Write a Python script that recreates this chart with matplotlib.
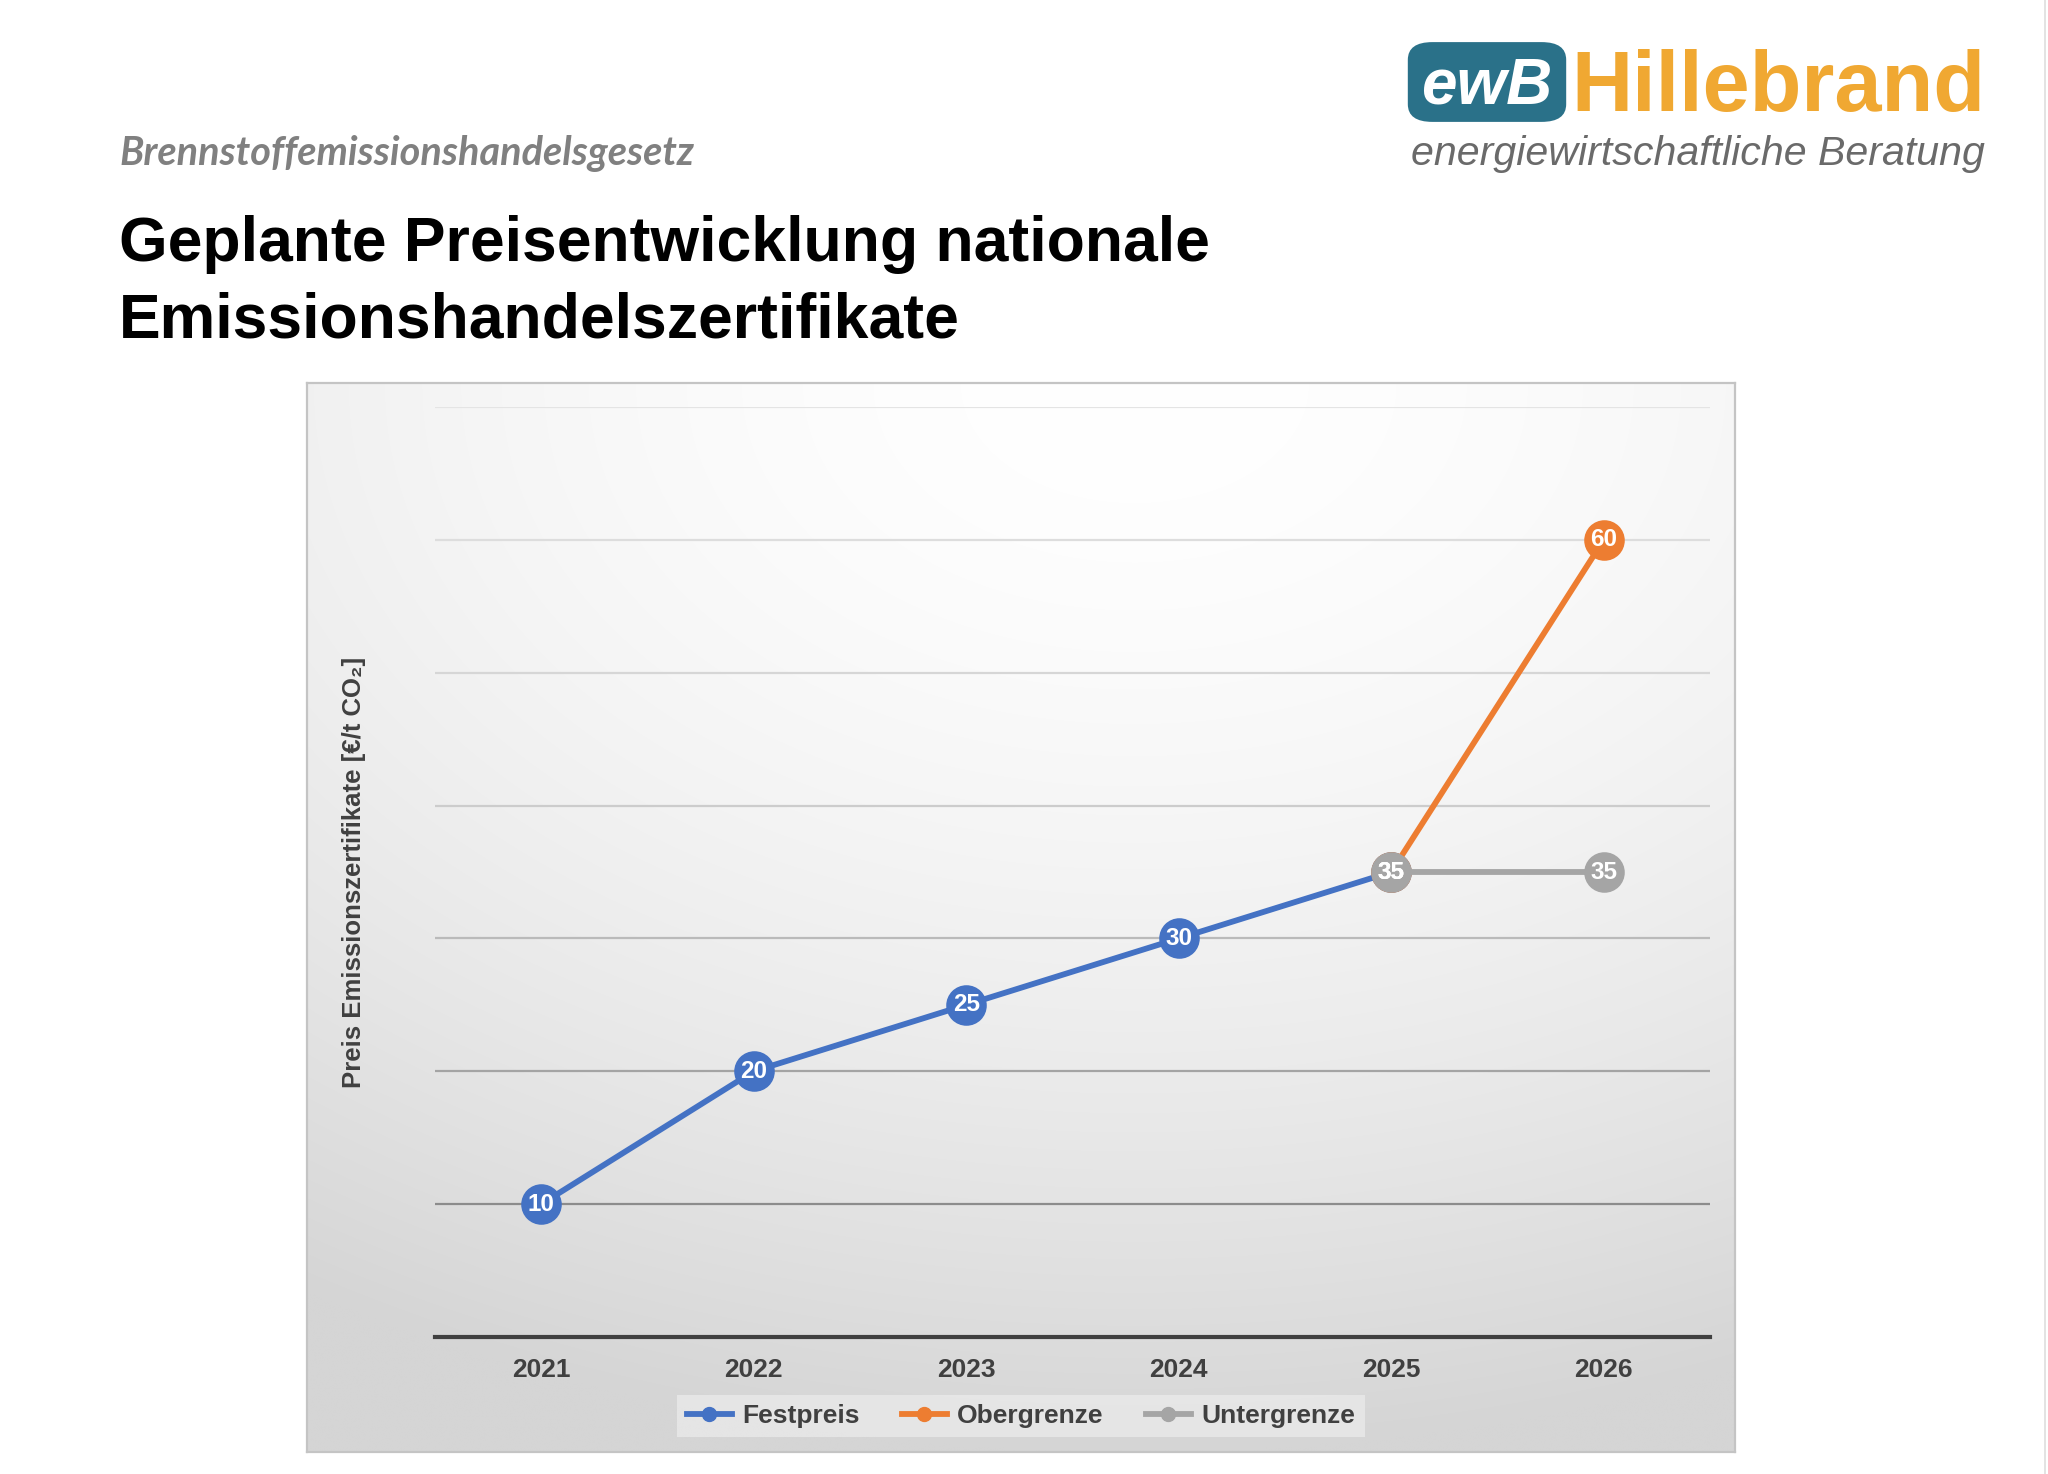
import numpy as np
import matplotlib
matplotlib.use("Agg")
import matplotlib.pyplot as plt
from matplotlib.lines import Line2D
from matplotlib.patches import FancyBboxPatch

# --- data -------------------------------------------------------------
years = ["2021", "2022", "2023", "2024", "2025", "2026"]
festpreis = [10, 20, 25, 30, 35, np.nan]
obergrenze = [np.nan, np.nan, np.nan, np.nan, 35, 60]
untergrenze = [np.nan, np.nan, np.nan, np.nan, 35, 35]
series_names = ["Festpreis", "Obergrenze", "Untergrenze"]

BLUE, ORANGE, GRAY = "#4472C4", "#ED7D31", "#A5A5A5"
TXT = "#404040"
W, H = 2048, 1474

plt.rcParams.update({"font.family": ["Liberation Sans", "DejaVu Sans"]})
fig = plt.figure(figsize=(W / 100, H / 100), dpi=100)
fig.patch.set_facecolor("white")


def fx(x):
    return x / W


def fy(y):
    return 1 - y / H


# header texts
fig.text(fx(119), fy(165), "Brennstoffemissionshandelsgesetz", fontsize=28.5,
         family=["Lato", "DejaVu Sans"], style="italic", fontweight="bold",
         color="#808080", va="baseline")
fig.text(fx(119), fy(261), "Geplante Preisentwicklung nationale", fontsize=45,
         fontweight="bold", color="black", va="baseline")
fig.text(fx(119), fy(337), "Emissionshandelszertifikate", fontsize=45,
         fontweight="bold", color="black", va="baseline")

# logo
fig.patches.append(FancyBboxPatch((fx(1416), fy(116)), fx(142), fy(48) - fy(116),
                                  boxstyle="round,pad=0.004,rounding_size=0.012",
                                  transform=fig.transFigure, facecolor="#2a7189",
                                  edgecolor="none"))
fig.text(fx(1487), fy(104), "ewB", fontsize=46, fontweight="bold", style="italic",
         color="white", ha="center", va="baseline")
fig.text(fx(1571), fy(111), "Hillebrand", fontsize=61, fontweight="bold",
         color="#F0A832", ha="left", va="baseline")
fig.text(fx(1411), fy(165), "energiewirtschaftliche Beratung", fontsize=29.6,
         style="italic", color="#6a6a6a", ha="left", va="baseline")

# faint slide edge at the right
fig.add_artist(Line2D([fx(2045), fx(2045)], [0, 1], color="#dedede", lw=1.2,
                      transform=fig.transFigure))

# --- chart box with radial gradient ----------------------------------
bg = fig.add_axes([fx(307), fy(1452), fx(1735) - fx(307), fy(383) - fy(1452)])
gx, gy = np.meshgrid(np.linspace(0, 1, 400), np.linspace(0, 1, 300))
d = np.sqrt(((gx - 0.58) / 1.1) ** 2 + ((1 - gy) / 1.0) ** 2)
d = np.clip(d, 0, 1)
shade = (255 - 42 * d ** 1.7) / 255
bg.imshow(np.dstack([shade] * 3), extent=(0, 1, 0, 1), origin="lower",
          aspect="auto", interpolation="bilinear")
bg.set_xticks([]); bg.set_yticks([])
for s in bg.spines.values():
    s.set_color("#c4c4c4"); s.set_linewidth(1.6)

# --- plot area --------------------------------------------------------
ax = fig.add_axes([fx(435), fy(1337), fx(1710) - fx(435), fy(407) - fy(1337)])
ax.set_facecolor("none")
x = np.arange(len(years))
ax.set_xlim(-0.5, len(years) - 0.5)
ax.set_ylim(0, 70)
ax.set_yticks(np.arange(0, 71, 10))
ax.tick_params(axis="y", length=0, labelleft=False)
ax.tick_params(axis="x", length=0, pad=15)
ax.set_xticks(x)
ax.set_xticklabels(years, fontsize=19, fontweight="bold", color=TXT)
for s in ("left", "right", "top"):
    ax.spines[s].set_visible(False)
ax.spines["bottom"].set_color(TXT)
ax.spines["bottom"].set_linewidth(3)

grid_cols = {10: "#8c8c8c", 20: "#a4a4a4", 30: "#bababa", 40: "#cccccc",
             50: "#d6d6d6", 60: "#dddddd", 70: "#e4e4e4"}
for t in ax.get_yticks()[1:]:
    ax.axhline(t, color=grid_cols.get(int(t), "#cccccc"), lw=1.6, zorder=0)

ax.set_ylabel("Preis Emissionszertifikate [€/t CO₂]", fontsize=18.5,
              fontweight="bold", color=TXT, labelpad=50)

handles = []
for vals, name, col in zip([festpreis, obergrenze, untergrenze], series_names,
                           [BLUE, ORANGE, GRAY]):
    ax.plot(x, vals, "-o", color=col, lw=4.2, ms=28, mec=col, mew=1.2,
            zorder=3, clip_on=False)
    for xi, v in zip(x, vals):
        if not np.isnan(v):
            ax.text(xi, v, f"{v:.0f}", ha="center", va="center", fontsize=17.5,
                    fontweight="bold", color="white", zorder=4)
    handles.append(Line2D([0], [0], color=col, lw=4.2, marker="o", ms=10))

leg = fig.legend(handles, series_names, ncol=3, loc="center",
                 bbox_to_anchor=(fx(1021), fy(1416)), frameon=True,
                 prop={"size": 19, "weight": "bold"}, labelcolor=TXT,
                 handlelength=1.7, handletextpad=0.4, columnspacing=1.6,
                 borderpad=0.35, borderaxespad=0, fancybox=False)
leg.get_frame().set_facecolor("#ececec")
leg.get_frame().set_edgecolor("none")
leg.get_frame().set_alpha(0.7)

fig.savefig("out.png", dpi=100)
